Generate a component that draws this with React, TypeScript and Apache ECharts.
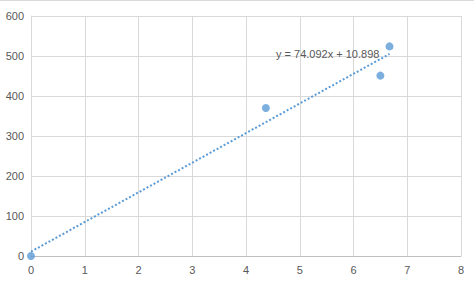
import React, { useEffect, useRef } from "react";
import * as echarts from "echarts";

const xValues = [0, 4.37, 6.5, 6.67];
const yValues = [0, 370, 451, 524];
const slope = 74.092;
const intercept = 10.898;
const trendLabel = "y = 74.092x + 10.898";
const xTicks = [0, 1, 2, 3, 4, 5, 6, 7, 8];
const yTicks = [0, 100, 200, 300, 400, 500, 600];

export default function App() {
  const ref = useRef<HTMLDivElement>(null);
  useEffect(() => {
    if (!ref.current) return;
    const chart = echarts.init(ref.current, undefined, { renderer: "svg" });
    const pts = xValues.map((x, i) => [x, yValues[i]]);
    const xMin = Math.min(...xValues);
    const xMax = Math.max(...xValues);
    const trend = [
      [xMin, slope * xMin + intercept],
      [xMax, slope * xMax + intercept],
    ];
    const labelColor = "#595959";
    chart.setOption({
      animation: false,
      backgroundColor: "#ffffff",
      grid: { left: 31, right: 13, top: 15, bottom: 26, containLabel: false },
      xAxis: {
        type: "value",
        min: xTicks[0],
        max: xTicks[xTicks.length - 1],
        interval: 1,
        axisLine: { show: true, lineStyle: { color: "#bfbfbf", width: 1 } },
        axisTick: { show: false },
        axisLabel: { color: labelColor, fontSize: 11, fontFamily: "Liberation Sans, Arial, sans-serif", margin: 8 },
        splitLine: { show: true, lineStyle: { color: "#d9d9d9", width: 1 } },
      },
      yAxis: {
        type: "value",
        min: yTicks[0],
        max: yTicks[yTicks.length - 1],
        interval: 100,
        axisLine: { show: true, lineStyle: { color: "#d9d9d9", width: 1 } },
        axisTick: { show: false },
        axisLabel: { color: labelColor, fontSize: 11, fontFamily: "Liberation Sans, Arial, sans-serif", margin: 7 },
        splitLine: { show: true, lineStyle: { color: "#d9d9d9", width: 1 } },
      },
      series: [
        {
          type: "line",
          data: trend,
          showSymbol: false,
          symbol: "none",
          lineStyle: { color: "#5b9bd5", width: 2, type: [2, 2] },
          silent: true,
          z: 2,
        },
        {
          type: "scatter",
          data: pts,
          symbolSize: 8,
          itemStyle: { color: "#5b9bd5" },
          z: 3,
        },
      ],
      graphic: [
        {
          type: "text",
          left: 276,
          top: 47,
          style: {
            text: trendLabel,
            fill: labelColor,
            fontSize: 11,
            fontFamily: "Liberation Sans, Arial, sans-serif",
          },
          z: 10,
        },
      ],
    });
    return () => chart.dispose();
  }, []);
  return (
    <div
      ref={ref}
      style={{ position: "absolute", left: 0, top: 0, width: 474, height: 282, boxSizing: "border-box", borderTop: "1px solid #d9d9d9" }}
    />
  );
}
